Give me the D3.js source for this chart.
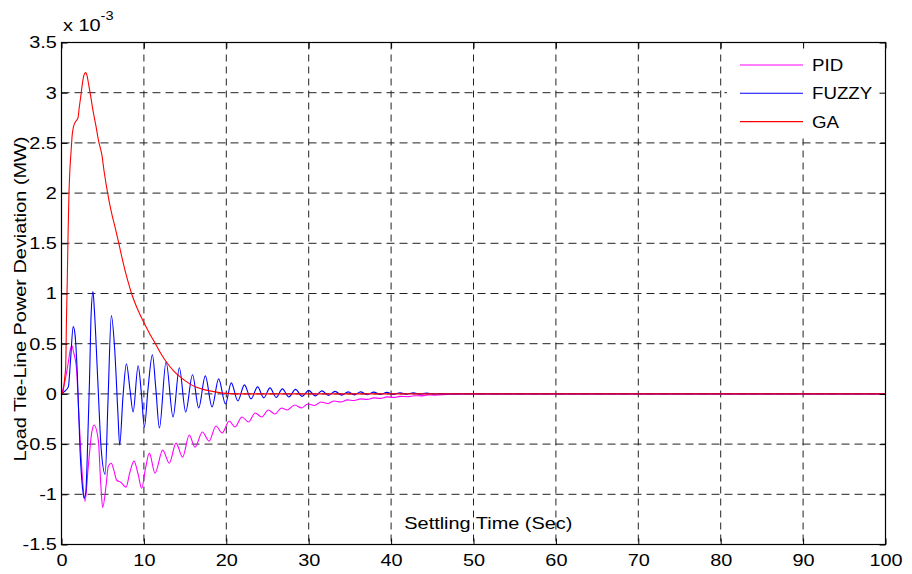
<!DOCTYPE html>
<html>
<head>
<meta charset="utf-8">
<script src="https://cdn.jsdelivr.net/npm/d3@7/dist/d3.min.js"></script>
<style>
  body { margin: 0; background: #fff; }
  svg text { font-family: "Liberation Sans", Arial, sans-serif; fill: #000; }
</style>
</head>
<body>
<div id="chart"></div>
<script>
// values are in units of 1e-3 MW, as on the axis
var seriesNames = ["PID", "FUZZY", "GA"];

var pidTime  = [0, 0.4, 0.8, 1.1, 1.27, 1.45, 1.8, 2.12, 2.45, 2.85, 3.25, 3.66, 3.95, 4.47, 4.76, 5.0, 5.4, 5.68, 6.05, 6.35, 6.7, 7.2, 7.83, 8.3, 8.8, 9.3, 9.73, 10.2, 10.66, 11.35, 12.28, 13.08, 13.9, 14.7, 15.5, 16.2, 17.1, 17.9, 18.75, 19.5, 20.35, 21.05, 21.9, 22.7, 23.5, 24.3, 25.1, 25.9, 26.7, 27.4, 28.3, 29.15, 29.9, 30.7, 31.5, 32.3, 33.1, 33.9, 34.7, 35.5, 36.3, 37.1, 37.9, 38.7, 39.5, 40.3, 41.1, 42.0, 42.8, 43.6, 44.5, 45.3, 46.8, 48, 100];
var pidValue = [0, 0.12, 0.3, 0.45, 0.48, 0.42, 0.27, -0.23, -0.72, -1.07, -0.72, -0.39, -0.31, -0.46, -0.89, -1.13, -0.92, -0.72, -0.69, -0.76, -0.86, -0.88, -0.93, -0.78, -0.67, -0.8, -0.94, -0.74, -0.59, -0.79, -0.56, -0.69, -0.49, -0.63, -0.41, -0.53, -0.38, -0.47, -0.32, -0.39, -0.27, -0.33, -0.23, -0.28, -0.19, -0.23, -0.16, -0.2, -0.14, -0.16, -0.11, -0.14, -0.1, -0.115, -0.08, -0.095, -0.07, -0.08, -0.06, -0.065, -0.05, -0.055, -0.04, -0.045, -0.03, -0.035, -0.025, -0.028, -0.018, -0.02, -0.01, -0.012, -0.005, 0, 0];

var fuzzyTime  = [0, 0.3, 0.83, 1.1, 1.42, 1.63, 1.92, 2.25, 2.65, 2.75, 2.95, 3.1, 3.4, 3.6, 3.82, 4.0, 4.4, 4.8, 5.3, 5.65, 6.05, 6.45, 6.85, 7.06, 7.46, 7.88, 8.3, 8.69, 9.3, 9.7, 10.06, 10.5, 11.03, 11.45, 11.88, 12.69, 13.54, 14.3, 15.07, 15.9, 16.65, 17.45, 18.27, 19.07, 19.9, 20.6, 21.4, 22.2, 23.0, 23.8, 24.55, 25.3, 26.05, 26.8, 27.6, 28.4, 29.2, 30.0, 30.8, 31.6, 32.4, 33.2, 34.0, 34.8, 35.55, 36.3, 37.1, 37.9, 38.7, 39.5, 40.3, 41.1, 41.9, 42.7, 43.5, 44.3, 45.1, 100];
var fuzzyValue = [0, 0.02, 0.07, 0.34, 0.67, 0.6, 0.2, -0.56, -1.0, -1.04, -0.98, -0.7, 0.14, 0.8, 1.02, 0.82, 0.14, -0.53, -0.8, -0.05, 0.78, 0.45, -0.2, -0.51, -0.03, 0.3, 0.05, -0.18, 0.28, 0.0, -0.33, 0.05, 0.39, 0.05, -0.34, 0.32, -0.23, 0.26, -0.18, 0.19, -0.14, 0.18, -0.13, 0.15, -0.1, 0.11, -0.07, 0.09, -0.05, 0.07, -0.04, 0.06, -0.035, 0.05, -0.03, 0.045, -0.025, 0.035, -0.02, 0.03, -0.015, 0.025, -0.012, 0.02, -0.01, 0.02, -0.008, 0.018, -0.006, 0.015, -0.005, 0.012, -0.004, 0.01, -0.003, 0.008, 0, 0];

var gaTime  = [0, 0.2, 0.4, 0.51, 0.6, 0.7, 0.8, 0.9, 1.0, 1.15, 1.3, 1.45, 1.7, 2.0, 2.15, 2.35, 2.55, 2.75, 2.95, 3.1, 3.3, 3.55, 3.85, 4.2, 4.5, 4.9, 5.2, 5.6, 6.0, 6.5, 6.9, 7.5, 8.0, 8.5, 9.2, 10.0, 10.7, 11.4, 12.0, 12.8, 13.6, 14.4, 15.2, 16.0, 17.0, 18.0, 19.0, 20.0, 22.0, 100];
var gaValue = [0, 0.03, 0.17, 0.27, 0.72, 1.13, 1.6, 1.98, 2.2, 2.4, 2.58, 2.66, 2.71, 2.75, 2.85, 2.97, 3.1, 3.18, 3.2, 3.17, 3.08, 2.96, 2.81, 2.66, 2.52, 2.38, 2.2, 2.0, 1.83, 1.66, 1.52, 1.3, 1.14, 1.0, 0.85, 0.71, 0.6, 0.5, 0.41, 0.31, 0.23, 0.17, 0.12, 0.08, 0.05, 0.03, 0.015, 0.005, 0, 0];

var xTicks = [0, 10, 20, 30, 40, 50, 60, 70, 80, 90, 100];
var yTicks = [-1.5, -1, -0.5, 0, 0.5, 1, 1.5, 2, 2.5, 3, 3.5];
var yTickLabels = ["-1.5", "-1", "-0.5", "0", "0.5", "1", "1.5", "2", "2.5", "3", "3.5"];

var colors = { PID: "#ff00ff", FUZZY: "#0000ff", GA: "#ff0000" };

var W = 912, H = 574;
var plotL = 61.5, plotR = 885.5, plotT = 42.5, plotB = 544.5;
var stretch = 1.17;   // glyphs in the picture are wider than Arial
var fs = 17;

var x = d3.scaleLinear().domain([0, 100]).range([plotL, plotR]);
var y = d3.scaleLinear().domain([-1.5, 3.5]).range([plotB, plotT]);

var svg = d3.select("#chart").append("svg")
  .attr("width", W).attr("height", H);

function zip(t, v) { return t.map(function(d, i) { return { t: d, v: v[i] }; }); }
var series = [
  { name: "PID", pts: zip(pidTime, pidValue) },
  { name: "FUZZY", pts: zip(fuzzyTime, fuzzyValue) },
  { name: "GA", pts: zip(gaTime, gaValue) }
];

// grid
var grid = svg.append("g");
xTicks.slice(1, -1).forEach(function(t) {
  grid.append("line")
    .attr("x1", x(t)).attr("x2", x(t)).attr("y1", plotT).attr("y2", plotB)
    .attr("stroke", "#222").attr("stroke-width", 1).attr("stroke-dasharray", "7,5");
});
yTicks.slice(1, -1).forEach(function(v) {
  grid.append("line")
    .attr("x1", plotL).attr("x2", plotR).attr("y1", y(v)).attr("y2", y(v))
    .attr("stroke", "#222").attr("stroke-width", 1).attr("stroke-dasharray", "8,5");
});

// curves
var line = d3.line()
  .x(function(d) { return x(d.t); })
  .y(function(d) { return y(d.v); })
  .curve(d3.curveMonotoneX);

svg.append("clipPath").attr("id", "clip")
  .append("rect").attr("x", plotL).attr("y", plotT).attr("width", plotR - plotL).attr("height", plotB - plotT);

svg.append("g").attr("clip-path", "url(#clip)")
  .selectAll("path").data(series).enter().append("path")
  .attr("d", function(d) { return line(d.pts); })
  .attr("fill", "none")
  .attr("stroke", function(d) { return colors[d.name]; })
  .attr("stroke-width", 1.1);

// legend
var lg = svg.append("g");
lg.append("rect").attr("x", 727).attr("y", plotT + 0.5).attr("width", plotR - 727).attr("height", 95).attr("fill", "#fff");
seriesNames.forEach(function(n, i) {
  var yy = 65 + i * 28.3;
  lg.append("line").attr("x1", 740).attr("x2", 803).attr("y1", yy).attr("y2", yy)
    .attr("stroke", colors[n]).attr("stroke-width", 1.1);
  lg.append("text").attr("transform", "translate(812," + (yy + 6) + ") scale(1.1,1)")
    .attr("font-size", fs).text(n);
});

// axes with inward ticks on all four sides
function styleAxis(g) {
  g.select(".domain").remove();
  g.selectAll(".tick line").attr("stroke", "#000");
}
function styleLabels(g) {
  g.selectAll("text").attr("font-size", fs).attr("font-family", null)
    .attr("transform", "scale(" + stretch + ",1)");
}
svg.append("g").attr("transform", "translate(0," + plotB + ")")
  .call(d3.axisBottom(x).tickValues(xTicks).tickSize(-6).tickPadding(9.5))
  .call(styleAxis).call(styleLabels);
svg.append("g").attr("transform", "translate(" + plotL + ",0)")
  .call(d3.axisLeft(y).tickValues(yTicks).tickSize(-6).tickPadding(4)
    .tickFormat(function(d, i) { return yTickLabels[i]; }))
  .call(styleAxis).call(styleLabels);
svg.append("g").attr("transform", "translate(0," + plotT + ")")
  .call(d3.axisTop(x).tickValues(xTicks).tickSize(-6).tickFormat(""))
  .call(styleAxis);
svg.append("g").attr("transform", "translate(" + plotR + ",0)")
  .call(d3.axisRight(y).tickValues(yTicks).tickSize(-6).tickFormat(""))
  .call(styleAxis);

svg.append("rect")
  .attr("x", plotL).attr("y", plotT).attr("width", plotR - plotL).attr("height", plotB - plotT)
  .attr("fill", "none").attr("stroke", "#000").attr("stroke-width", 1.2);

// labels
svg.append("text")
  .attr("transform", "translate(" + (plotL + (plotR - plotL) * 0.518) + ",529) scale(" + stretch + ",1)")
  .attr("text-anchor", "middle").attr("font-size", fs)
  .text("Settling Time (Sec)");

svg.append("text")
  .attr("transform", "translate(26,299) rotate(-90) scale(" + stretch + ",1)")
  .attr("text-anchor", "middle").attr("font-size", fs)
  .text("Load Tie-Line Power Deviation (MW)");

var ex = svg.append("text")
  .attr("transform", "translate(63,31) scale(" + stretch + ",1)")
  .attr("font-size", fs);
ex.append("tspan").text("x 10");
ex.append("tspan").attr("font-size", 12.5).attr("dy", -11).text("-3");
</script>
</body>
</html>
